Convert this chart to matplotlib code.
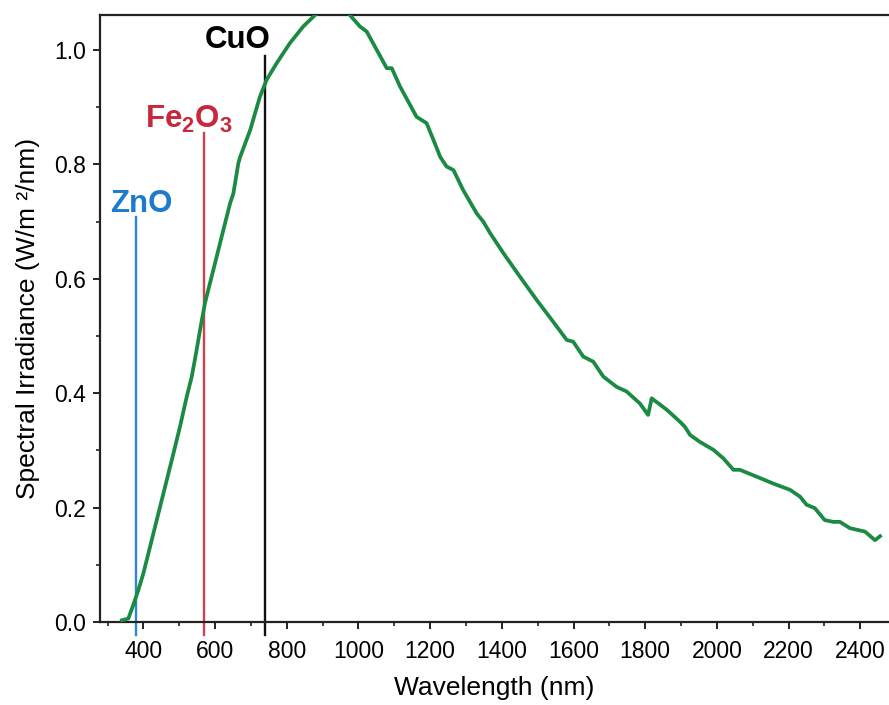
import numpy as np
import matplotlib
matplotlib.use('Agg')
import matplotlib.pyplot as plt
from matplotlib.ticker import MultipleLocator

plt.rcParams['font.family'] = ['Liberation Sans', 'DejaVu Sans']
plt.rcParams['mathtext.fontset'] = 'custom'
plt.rcParams['mathtext.rm'] = 'Liberation Sans'
plt.rcParams['mathtext.bf'] = 'Liberation Sans:bold'

# solar spectrum
wavelength = [340, 358, 372, 386, 400, 428, 456, 484, 502, 521, 535, 547, 558, 572,
              595, 623, 642, 651, 665, 670, 698, 725, 744, 772, 809, 846, 879,
              905, 930, 955, 976, 1004, 1023, 1051, 1079, 1093, 1116, 1162, 1190,
              1209, 1228, 1246, 1265, 1292, 1330, 1348, 1367, 1404, 1450, 1497,
              1543, 1581, 1599, 1627, 1655, 1683, 1720, 1748, 1785, 1808, 1818,
              1860, 1897, 1911, 1925, 1952, 1990, 2018, 2046, 2064, 2111, 2157,
              2204, 2232, 2250, 2273, 2301, 2325, 2343, 2371, 2413, 2441, 2455]
irradiance = [0.003, 0.006, 0.030, 0.056, 0.085, 0.155, 0.225, 0.295, 0.341, 0.394,
              0.429, 0.470, 0.510, 0.558, 0.615, 0.685, 0.732, 0.749, 0.802, 0.813,
              0.860, 0.918, 0.948, 0.977, 1.012, 1.041, 1.061, 1.075, 1.082, 1.076,
              1.061, 1.041, 1.032, 1.000, 0.968, 0.968, 0.936, 0.883, 0.872, 0.843,
              0.813, 0.796, 0.790, 0.755, 0.714, 0.700, 0.680, 0.645, 0.604, 0.563,
              0.525, 0.493, 0.490, 0.464, 0.455, 0.429, 0.411, 0.403, 0.382, 0.362,
              0.391, 0.371, 0.350, 0.341, 0.327, 0.315, 0.301, 0.286, 0.266, 0.266,
              0.254, 0.242, 0.231, 0.219, 0.205, 0.199, 0.178, 0.175, 0.175, 0.164,
              0.158, 0.143, 0.150]

# band edges of the oxides
oxides = ['ZnO', r'Fe$_\mathbf{2}$O$_\mathbf{3}$', 'CuO']
edges = [380, 570, 740]
line_tops = [0.708, 0.855, 0.99]
label_x = [395, 528, 664]
label_y = [0.717, 0.863, 1.003]
line_colors = ['#2f86d0', '#d2404e', '#111111']
text_colors = ['#1f7ccc', '#c8283c', '#000000']

fig = plt.figure(figsize=(8.89, 7.05), dpi=100)
ax = fig.add_axes([100/889, 83/705, 789/889, 607/705])

ax.plot(wavelength, irradiance, color='#1b8a42', lw=2.7, zorder=3)

for e, top, c in zip(edges, line_tops, line_colors):
    ax.plot([e, e], [-0.022, top], color=c, lw=1.7, clip_on=False, zorder=2)
for name, tx, ty, c in zip(oxides, label_x, label_y, text_colors):
    ax.text(tx, ty, name, color=c, fontsize=22.5, fontweight='bold',
            ha='center', va='baseline')

ax.set_xlim(279, 2480)
ax.set_ylim(0, 1.061)
ax.xaxis.set_major_locator(MultipleLocator(200))
ax.xaxis.set_minor_locator(MultipleLocator(100))
ax.yaxis.set_major_locator(MultipleLocator(0.2))
ax.yaxis.set_minor_locator(MultipleLocator(0.1))
ax.yaxis.set_major_formatter(plt.FuncFormatter(lambda v, p: f'{v:.1f}'))
ax.set_xticks([400, 600, 800, 1000, 1200, 1400, 1600, 1800, 2000, 2200, 2400])

for s in ['left', 'bottom', 'top']:
    ax.spines[s].set_linewidth(1.6)
    ax.spines[s].set_color('#222222')
ax.spines['right'].set_visible(False)
ax.tick_params(which='major', direction='out', length=5, width=1.4, labelsize=16.5,
               color='#222222', top=False, right=False)
ax.tick_params(which='minor', direction='out', length=3, width=1.2, color='#222222',
               top=False, right=False)
ax.tick_params(axis='x', which='major', pad=8)
ax.tick_params(axis='y', which='major', pad=5)

ax.set_xlabel('Wavelength (nm)', fontsize=19, labelpad=9)
ax.set_ylabel('Spectral Irradiance (W/m \u00b2/nm)', fontsize=19, labelpad=10)

fig.savefig('out.png', dpi=100)
